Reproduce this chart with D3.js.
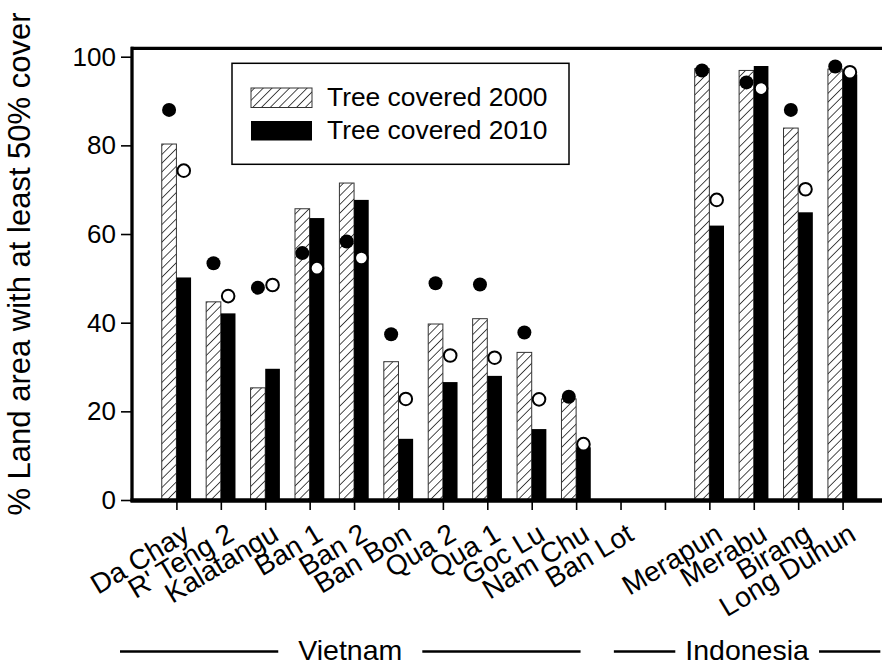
<!DOCTYPE html>
<html>
<head>
<meta charset="utf-8">
<script src="https://cdn.jsdelivr.net/npm/d3@7"></script>
<style>
  body { margin: 0; background: #fff; }
  text { font-family: "Liberation Sans", Arial, sans-serif; fill: #000; }
</style>
</head>
<body>
<script>
// sites in plot order, "" is the empty slot between the two countries
var sites = ["Da Chay", "R' Teng 2", "Kalatangu", "Ban 1", "Ban 2", "Ban Bon", "Qua 2", "Qua 1",
             "Goc Lu", "Nam Chu", "Ban Lot", "", "Merapun", "Merabu", "Birang", "Long Duhun"];
var cover2000 = [80.3, 44.7, 25.3, 65.7, 71.5, 31.2, 39.7, 40.9, 33.3, 22.8, null, null, 97.3, 96.9, 83.9, 97.2];
var cover2010 = [50.2, 42.1, 29.6, 63.6, 67.7, 13.8, 26.6, 28.0, 16.0, 11.9, null, null, 61.9, 97.9, 64.9, 96.0];
var dots2000 = [88.0, 53.4, 47.9, 55.7, 58.3, 37.4, 48.9, 48.6, 37.8, 23.3, null, null, 96.9, 94.2, 88.0, 97.8];
var dots2010 = [74.3, 46.0, 48.5, 52.3, 54.6, 22.8, 32.6, 32.1, 22.7, 12.6, null, null, 67.7, 92.8, 70.1, 96.5];
var yTicks = [0, 20, 40, 60, 80, 100];
// country brackets, in x-scale units (site i sits at i + 1)
var groups = [
  {name: "Vietnam", from: -0.27, to: 10.1, gap: 20},
  {name: "Indonesia", from: 10.85, to: 16.85, gap: 10}
];
var legendLabels = ["Tree covered 2000", "Tree covered 2010"];

var W = 882, H = 666;
var svg = d3.select('body').append('svg')
    .attr('width', W)
    .attr('height', H);

var xScale = d3.scaleLinear()
    .domain([0, sites.length + 1])
    .range([132, 887]);

var yScale = d3.scaleLinear()
    .domain([0, 100])
    .range([500, 56.7]);

var step = xScale(1) - xScale(0);
var barW = step * 0.33;

// hatch pattern for the 2000 bars
var defs = svg.append('defs');
defs.append('pattern')
    .attr('id', 'hatch')
    .attr('patternUnits', 'userSpaceOnUse')
    .attr('width', 6.2)
    .attr('height', 6.2)
    .attr('patternTransform', 'rotate(45)')
    .call(function (p) {
        p.append('rect').attr('width', 6.2).attr('height', 6.2).attr('fill', '#fff');
        p.append('line')
            .attr('x1', 0).attr('y1', 0).attr('x2', 0).attr('y2', 6.2)
            .attr('stroke', '#000').attr('stroke-width', 1.4);
    });

var idx = d3.range(sites.length);

// bars
svg.append('g').selectAll('rect')
    .data(idx.filter(function (i) { return cover2000[i] != null; }))
    .enter()
    .append('rect')
    .attr('x', function (i) { return xScale(i + 1) - barW; })
    .attr('y', function (i) { return yScale(cover2000[i]); })
    .attr('width', barW)
    .attr('height', function (i) { return yScale(0) - yScale(cover2000[i]); })
    .attr('fill', 'url(#hatch)')
    .attr('stroke', '#333')
    .attr('stroke-width', 1);

svg.append('g').selectAll('rect')
    .data(idx.filter(function (i) { return cover2010[i] != null; }))
    .enter()
    .append('rect')
    .attr('x', function (i) { return xScale(i + 1); })
    .attr('y', function (i) { return yScale(cover2010[i]); })
    .attr('width', barW)
    .attr('height', function (i) { return yScale(0) - yScale(cover2010[i]); })
    .attr('fill', '#000');

// dots
svg.append('g').selectAll('circle')
    .data(idx.filter(function (i) { return dots2000[i] != null; }))
    .enter()
    .append('circle')
    .attr('cx', function (i) { return xScale(i + 1) - barW / 2; })
    .attr('cy', function (i) { return yScale(dots2000[i]); })
    .attr('r', 7)
    .attr('fill', '#000');

svg.append('g').selectAll('circle')
    .data(idx.filter(function (i) { return dots2010[i] != null; }))
    .enter()
    .append('circle')
    .attr('cx', function (i) { return xScale(i + 1) + barW / 2; })
    .attr('cy', function (i) { return yScale(dots2010[i]); })
    .attr('r', 6.3)
    .attr('fill', '#fff')
    .attr('stroke', '#000')
    .attr('stroke-width', 2);

// frame: top line and axes
svg.append('line')
    .attr('x1', 131).attr('x2', W).attr('y1', 48.3).attr('y2', 48.3)
    .attr('stroke', '#000').attr('stroke-width', 3.3);

// Y-axis
var yAxis = d3.axisLeft(yScale)
    .tickValues(yTicks)
    .tickSize(11)
    .tickPadding(5);

var gy = svg.append('g')
    .attr('transform', 'translate(132,0)')
    .call(yAxis);
gy.select('.domain').remove();
gy.selectAll('.tick line').attr('stroke-width', 1.6);
gy.selectAll('.tick text')
    .style('font-size', '26px')
    .style('font-family', '"Liberation Sans", Arial, sans-serif');

svg.append('line')
    .attr('x1', 132).attr('x2', 132).attr('y1', 46.7).attr('y2', 502)
    .attr('stroke', '#000').attr('stroke-width', 3.3);

// X-axis
var xAxis = d3.axisBottom(xScale)
    .tickValues(idx.map(function (i) { return i + 1; }))
    .tickSize(10)
    .tickFormat('');

var gx = svg.append('g')
    .attr('transform', 'translate(0,500)')
    .call(xAxis);
gx.select('.domain').remove();
gx.selectAll('.tick line').attr('stroke-width', 1.6);

svg.append('line')
    .attr('x1', 130.5).attr('x2', W).attr('y1', 500.5).attr('y2', 500.5)
    .attr('stroke', '#000').attr('stroke-width', 4.6);

// site labels
svg.append('g').selectAll('text')
    .data(idx)
    .enter()
    .append('text')
    .attr('transform', function (i) { return 'translate(' + (xScale(i + 1) + 15) + ',539) rotate(-31)'; })
    .style('text-anchor', 'end')
    .style('font-size', '28px')
    .text(function (i) { return sites[i]; });

// Y-axis label
svg.append('text')
    .attr('transform', 'translate(30,264) rotate(-90)')
    .style('text-anchor', 'middle')
    .style('font-size', '31px')
    .text('% Land area with at least 50% cover');

// country groups
var gg = svg.append('g').selectAll('g')
    .data(groups)
    .enter()
    .append('g');

gg.append('text')
    .attr('x', function (d) { return (xScale(d.from) + xScale(d.to)) / 2; })
    .attr('y', 659.5)
    .style('text-anchor', 'middle')
    .style('font-size', '28.5px')
    .text(function (d) { return d.name; });

gg.each(function (d) {
    var g = d3.select(this);
    var bb = g.select('text').node().getBBox();
    g.append('line')
        .attr('x1', xScale(d.from)).attr('x2', bb.x - d.gap)
        .attr('y1', 651.5).attr('y2', 651.5)
        .attr('stroke', '#000').attr('stroke-width', 2.5);
    g.append('line')
        .attr('x1', bb.x + bb.width + d.gap).attr('x2', xScale(d.to))
        .attr('y1', 651.5).attr('y2', 651.5)
        .attr('stroke', '#000').attr('stroke-width', 2.5);
});

// legend
var legend = svg.append('g');
legend.append('rect')
    .attr('x', 232).attr('y', 63.3)
    .attr('width', 337).attr('height', 101)
    .attr('fill', '#fff')
    .attr('stroke', '#000')
    .attr('stroke-width', 1.5);

var items = legend.selectAll('g.item')
    .data(legendLabels)
    .enter()
    .append('g')
    .attr('class', 'item')
    .attr('transform', function (d, i) { return 'translate(0,' + (i * 33) + ')'; });

items.append('rect')
    .attr('x', 251).attr('y', 88)
    .attr('width', 61).attr('height', 19.5)
    .attr('fill', function (d, i) { return i == 0 ? 'url(#hatch)' : '#000'; })
    .attr('stroke', function (d, i) { return i == 0 ? '#333' : 'none'; })
    .attr('stroke-width', 1);

items.append('text')
    .attr('x', 327)
    .attr('y', 105.5)
    .style('font-size', '26.4px')
    .text(function (d) { return d; });
</script>
</body>
</html>
